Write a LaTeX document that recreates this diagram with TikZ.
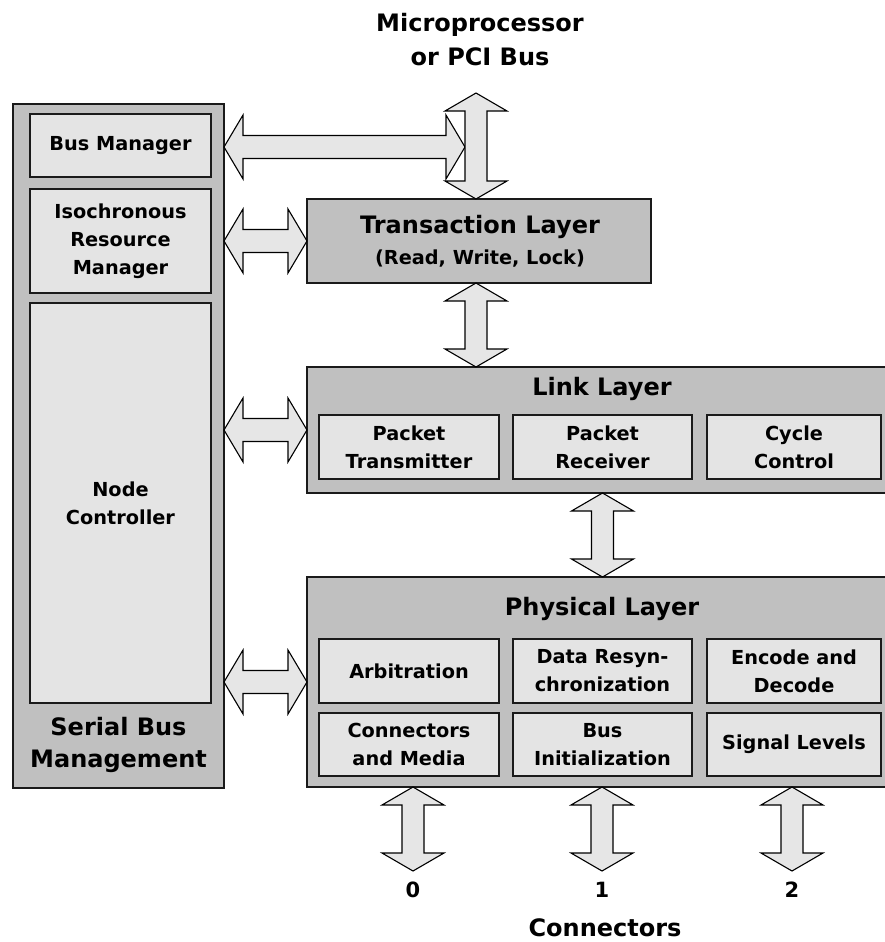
\documentclass[tikz,border=0pt]{standalone}
\usepackage{fontspec}
\setmainfont{DejaVu Sans}
\usetikzlibrary{calc}
\definecolor{outergray}{HTML}{C0C0C0}
\definecolor{innergray}{HTML}{E4E4E4}
\definecolor{arrowfill}{HTML}{E6E6E6}
\definecolor{edgecol}{HTML}{1A1A1A}
\newcommand{\smallfnt}{\fontsize{19.3}{28}\selectfont\bfseries}
\newcommand{\bigfnt}{\fontsize{24}{32}\selectfont\bfseries}
\newcommand{\digitfnt}{\fontsize{21}{24}\selectfont\bfseries}
\newcommand{\arrHW}{31pt}
\newcommand{\arrSW}{11pt}
\newcommand{\arrHL}{18pt}
\newcommand{\VArrow}[2]{%
  \draw[blockarrow] let \p1=(#1), \p2=(#2) in
   (\x1,\y1) -- (\x1+\arrHW,\y1-\arrHL) -- (\x1+\arrSW,\y1-\arrHL)
   -- (\x1+\arrSW,\y2+\arrHL) -- (\x1+\arrHW,\y2+\arrHL) -- (\x1,\y2)
   -- (\x1-\arrHW,\y2+\arrHL) -- (\x1-\arrSW,\y2+\arrHL)
   -- (\x1-\arrSW,\y1-\arrHL) -- (\x1-\arrHW,\y1-\arrHL) -- cycle;}
\newcommand{\HArrow}[2]{%
  \draw[blockarrow] let \p1=(#1), \p2=(#2) in
   (\x1,\y1) -- (\x1+19pt,\y1+32pt) -- (\x1+19pt,\y1+11.5pt)
   -- (\x2-19pt,\y1+11.5pt) -- (\x2-19pt,\y1+32pt) -- (\x2,\y1)
   -- (\x2-19pt,\y1-32pt) -- (\x2-19pt,\y1-11.5pt)
   -- (\x1+19pt,\y1-11.5pt) -- (\x1+19pt,\y1-32pt) -- cycle;}
\tikzset{
  outerbox/.style={draw=edgecol, fill=outergray, line width=1.2pt, inner sep=0pt, outer sep=0pt},
  innerbox/.style={draw=edgecol, fill=innergray, line width=1.2pt, inner sep=0pt, outer sep=0pt,
    align=center, font=\smallfnt},
  blockarrow/.style={draw=black, fill=arrowfill, line width=1.1pt, line join=miter},
  plain/.style={inner sep=0pt, outer sep=0pt, text=black}
}
\begin{document}
\begin{tikzpicture}[x=1pt, y=-1pt]
\useasboundingbox (0,0) rectangle (885,942);
\clip (0,0) rectangle (885,942);
\fill[white] (0,0) rectangle (885,942);

% Serial Bus Management column
\node[outerbox, minimum width=211pt, minimum height=684pt] (sbm) at (118.5,446) {};
\node[innerbox, minimum width=181pt, minimum height=63pt] (bm) at (120.5,145.5) {Bus Manager};
\node[innerbox, minimum width=181pt, minimum height=104pt] (irm) at (120.5,241) {Isochronous\\Resource\\Manager};
\node[innerbox, minimum width=181pt, minimum height=400pt] (nc) at (120.5,503) {Node\\Controller};
\node[plain, align=center, font=\bigfnt] (sbmtitle) at (118.5,745) {Serial Bus\\Management};

% Transaction layer
\node[outerbox, minimum width=344pt, minimum height=84pt] (trans) at (479,241) {};
\node[plain, anchor=base, font=\bigfnt] (transtitle) at (480,233) {Transaction Layer};
\node[plain, anchor=base, font=\smallfnt] (transsub) at (480,264) {(Read, Write, Lock)};

% Link layer
\node[outerbox, minimum width=588pt, minimum height=126pt] (link) at (601,430) {};
\node[plain, anchor=base, font=\bigfnt] (linktitle) at (602,395) {Link Layer};
\node[innerbox, minimum width=180pt, minimum height=64pt] (pt) at (409,447) {Packet\\Transmitter};
\node[innerbox, minimum width=179pt, minimum height=64pt] (pr) at (602.5,447) {Packet\\Receiver};
\node[innerbox, minimum width=174pt, minimum height=64pt] (cc) at (794,447) {Cycle\\Control};

% Physical layer
\node[outerbox, minimum width=588pt, minimum height=210pt] (phys) at (601,682) {};
\node[plain, anchor=base, font=\bigfnt] (phystitle) at (602,615) {Physical Layer};
\node[innerbox, minimum width=180pt, minimum height=64pt] (arb) at (409,671) {Arbitration};
\node[innerbox, minimum width=179pt, minimum height=64pt] (drs) at (602.5,671) {Data Resyn-\\chronization};
\node[innerbox, minimum width=174pt, minimum height=64pt] (ed) at (794,671) {Encode and\\Decode};
\node[innerbox, minimum width=180pt, minimum height=63pt] (cm) at (409,744.5) {Connectors\\and Media};
\node[innerbox, minimum width=179pt, minimum height=63pt] (bi) at (602.5,744.5) {Bus\\Initialization};
\node[innerbox, minimum width=174pt, minimum height=63pt] (sl) at (794,744.5) {Signal Levels};

% Top label
\node[plain, align=center, font=\fontsize{24}{34}\selectfont\bfseries] (mp) at (480,40) {Microprocessor\\or PCI Bus};

% Arrows
\coordinate (pci) at (476,93);
\coordinate (busjoin) at (465,147);
\HArrow{sbm.east |- busjoin}{busjoin}
\VArrow{pci}{trans.north -| pci}
\HArrow{sbm.east |- trans.west}{trans.west}
\VArrow{trans.south -| pci}{link.north -| pci}
\HArrow{sbm.east |- link.west}{link.west}
\VArrow{link.south -| pr}{phys.north -| pr}
\HArrow{sbm.east |- phys.west}{phys.west}

\coordinate (c0) at (413,871);
\coordinate (c1) at (602,871);
\coordinate (c2) at (792,871);
\VArrow{phys.south -| c0}{c0}
\VArrow{phys.south -| c1}{c1}
\VArrow{phys.south -| c2}{c2}

\node[plain, anchor=base, font=\digitfnt] (n0) at (413,897) {0};
\node[plain, anchor=base, font=\digitfnt] (n1) at (602,897) {1};
\node[plain, anchor=base, font=\digitfnt] (n2) at (792,897) {2};
\node[plain, anchor=base, font=\bigfnt] (conn) at (605,936) {Connectors};
\end{tikzpicture}
\end{document}
